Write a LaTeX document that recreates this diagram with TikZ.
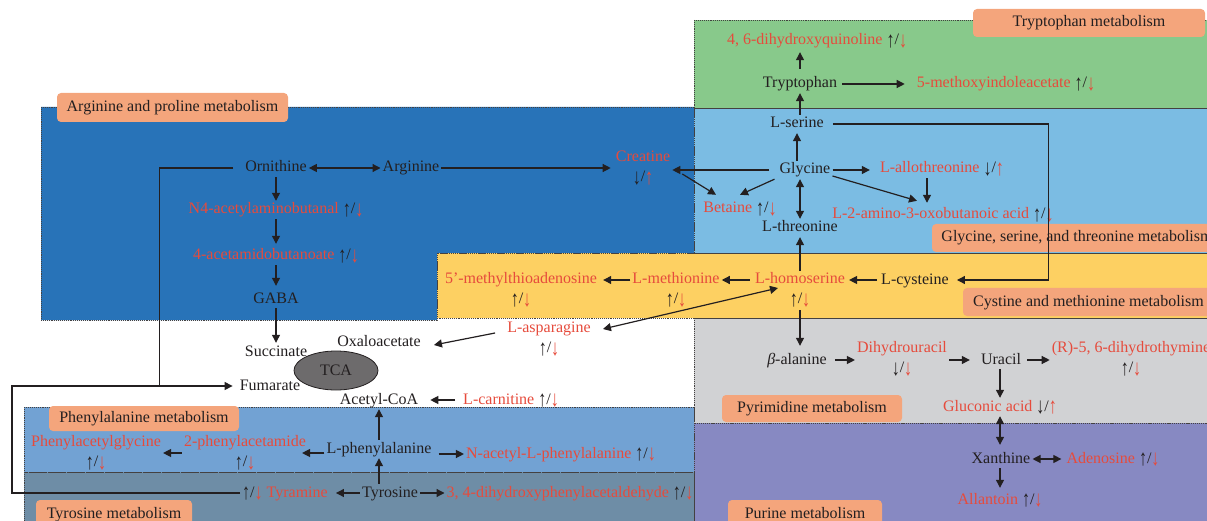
\documentclass[tikz,border=0pt]{standalone}
\usepackage{fontspec}
\usepackage{graphicx}
\setmainfont{Liberation Serif}
\usetikzlibrary{arrows.meta,shapes.geometric}
\definecolor{txt}{HTML}{231F20}
\definecolor{rd}{HTML}{E64B3C}
\definecolor{cgreen}{HTML}{88C98B}
\definecolor{cdblue}{HTML}{2873B8}
\definecolor{clblue}{HTML}{7BBCE3}
\definecolor{cyellow}{HTML}{FDD062}
\definecolor{cgrey}{HTML}{D1D2D4}
\definecolor{cpurple}{HTML}{8789C2}
\definecolor{cphe}{HTML}{72A2D3}
\definecolor{ctyr}{HTML}{6E8DA6}
\definecolor{clab}{HTML}{F4A57C}
\definecolor{ctca}{HTML}{6D6B6C}
\newcommand\uar{\raisebox{-2.5pt}{\scalebox{1}[1.4]{↑}}}
\newcommand\dar{\raisebox{-2.5pt}{\scalebox{1}[1.4]{↓}}}
\newcommand\UD{{\color{txt}\uar/}\dar}
\newcommand\DU{{\color{txt}\dar/}\uar}
\newcommand\DD{{\color{txt}\dar/}\dar}
\tikzset{
 base/.style={font=\fontsize{16}{20}\selectfont, inner sep=2pt},
 bk/.style={base, text=txt, text height=11pt, text depth=3pt},
 rdn/.style={base, text=rd, text height=11pt, text depth=3pt},
 rdtwo/.style={base, text=rd, align=center},
 lab/.style={base, text=txt, fill=clab, rounded corners=4pt, text height=11pt, text depth=3pt, inner sep=0pt},
 region/.style={draw=txt!85, densely dotted, line width=0.9pt},
 >={Triangle[length=8pt,width=8pt]},
 ln/.style={draw=txt, line width=1.2pt},
 arr/.style={ln, ->},
 darr/.style={ln, <->},
}
\begin{document}
\begin{tikzpicture}[x=1pt,y=-1pt]
\useasboundingbox (0,0) rectangle (1207,521);
\clip (0,0) rectangle (1207,521);
% regions
\fill[cgreen] (694,20) rectangle (1207,108);
\fill[cdblue] (41,107) -- (694,107) -- (694,253) -- (437,253) -- (437,320) -- (41,320) -- cycle;
\fill[clblue] (694,108) rectangle (1207,253);
\fill[cyellow] (437,253) rectangle (1207,318);
\fill[cgrey] (694,318) rectangle (1207,423);
\fill[cpurple] (694,423) rectangle (1207,521);
\fill[cphe] (24,407) rectangle (694,472);
\fill[ctyr] (24,472) rectangle (694,521);
\draw[region] (694,20) rectangle (1207,108);
\draw[region] (41,107) -- (694,107) -- (694,253) -- (437,253) -- (437,320) -- (41,320) -- cycle;
\draw[region] (694,108) rectangle (1207,253);
\draw[region] (437,253) rectangle (1207,318);
\draw[region] (694,318) rectangle (1207,423);
\draw[region] (694,423) rectangle (1207,521);
\draw[region] (24,407) rectangle (694,472);
\draw[region] (24,472) rectangle (694,521);
% labels
\node[lab, minimum width=231pt, minimum height=29pt] (l1) at (172.5,107.5) {Arginine and proline metabolism};
\node[lab, minimum width=232pt, minimum height=28pt] (l2) at (1089,23) {Tryptophan metabolism};
\node[lab, minimum width=290pt, minimum height=28pt] (l3) at (1077,238) {Glycine, serine, and threonine metabolism};
\node[lab, minimum width=251pt, minimum height=28pt] (l4) at (1088.5,302) {Cystine and methionine metabolism};
\node[lab, minimum width=180pt, minimum height=27pt] (l5) at (812,408.5) {Pyrimidine metabolism};
\node[lab, minimum width=154pt, minimum height=28pt] (l6) at (805,514) {Purine metabolism};
\node[lab, minimum width=190pt, minimum height=25pt] (l7) at (144,418.5) {Phenylalanine metabolism};
\node[lab, minimum width=156pt, minimum height=28pt] (l8) at (114,514) {Tyrosine metabolism};
% TCA
\node[base, ellipse, fill=ctca, draw=txt, line width=0.8pt, minimum width=84pt, minimum height=39pt, text=txt] (tca) at (336,370.5) {TCA};
% nodes
\node[rdn] (dq) at (817,41) {4, 6-dihydroxyquinoline \UD};
\node[bk] (trp) at (800,84) {Tryptophan};
\node[rdn] (mia) at (1006,84) {5-methoxyindoleacetate \UD};
\node[bk] (ser) at (797,124) {L-serine};
\node[bk] (gly) at (805,170) {Glycine};
\node[bk] (thr) at (800,228) {L-threonine};
\node[rdn] (allo) at (942,169) {L-allothreonine \DU};
\node[rdn] (amino) at (943,215) {L-2-amino-3-oxobutanoic acid \UD};
\node[rdn] (bet) at (740,209) {Betaine \UD};
\node[rdtwo] (cre) at (643,168) {Creatine\\\DU};
\node[bk] (orn) at (276,168) {Ornithine};
\node[bk] (arg) at (411,168) {Arginine};
\node[rdn] (n4) at (276,210) {N4-acetylaminobutanal \UD};
\node[rdn] (acet) at (276,256) {4-acetamidobutanoate \UD};
\node[bk] (gaba) at (276,299) {GABA};
\node[bk] (succ) at (276,352) {Succinate};
\node[bk] (fum) at (270,386) {Fumarate};
\node[bk] (oxa) at (379,342) {Oxaloacetate};
\node[bk] (acoa) at (379,400) {Acetyl-CoA};
\node[bk] (cys) at (915,280) {L-cysteine};
\node[rdtwo] (hom) at (800,290) {L-homoserine\\\UD};
\node[rdtwo] (met) at (676,290) {L-methionine\\\UD};
\node[rdtwo] (mta) at (521,290) {5'-methylthioadenosine\\\UD};
\node[rdtwo] (asn) at (549,339) {L-asparagine\\\UD};
\node[rdn] (car) at (511,400) {L-carnitine \UD};
\node[bk] (phe) at (379,449) {L-phenylalanine};
\node[rdtwo] (pam) at (245,453) {2-phenylacetamide\\\UD};
\node[rdtwo] (pag) at (96,453) {Phenylacetylglycine\\\UD};
\node[rdn] (nap) at (561,454) {N-acetyl-L-phenylalanine \UD};
\node[bk] (tyr) at (390,493) {Tyrosine};
\node[rdn] (tyra) at (285,493) {\UD\ Tyramine};
\node[rdn] (dop) at (570,493) {3, 4-dihydroxyphenylacetaldehyde \UD};
\node[bk] (bala) at (797,360) {\textit{β}-alanine};
\node[rdtwo] (dhu) at (902,359) {Dihydrouracil\\\DD};
\node[bk] (ura) at (1001,360) {Uracil};
\node[rdtwo] (dht) at (1131,359) {(R)-5, 6-dihydrothymine\\\UD};
\node[rdn] (glu) at (1000,407) {Gluconic acid \DU};
\node[bk] (xan) at (1001,459) {Xanthine};
\node[rdn] (ade) at (1113,459) {Adenosine \UD};
\node[rdn] (all) at (1000,500) {Allantoin \UD};
% connectors
\draw[arr, shorten <=6pt, shorten >=2pt] (trp.north) -- (trp.north |- dq.south);
\draw[arr, shorten <=3pt, shorten >=10pt] (trp.east) -- (trp.east -| mia.west);
\draw[arr] (ser.north -| trp) -- (trp.south);
\draw[arr] (gly.north -| ser) -- (ser.south);
\draw[darr] (gly.south -| thr) -- (thr.north);
\draw[arr, shorten >=8pt] ([xshift=-8pt]gly.west) -- ([xshift=-8pt]gly.west -| cre.east);
\draw[arr, shorten >=3pt] (arg.east) -- (arg.east -| cre.west);
\draw[arr] ([xshift=10pt,yshift=-6pt]cre.east) -- ([xshift=-24pt,yshift=5pt]bet.north);
\draw[arr] ([xshift=-3pt]gly.south west) -- ([yshift=5pt]bet.north);
\draw[arr, shorten >=8pt] (gly.east) -- (gly.east -| allo.west);
\draw[arr] ([yshift=-6pt]gly.east) -- ([xshift=-26pt,yshift=5pt]amino.north);
\draw[arr] ([xshift=-15pt]allo.south) -- ([xshift=-16pt,yshift=3pt]amino.north);
\draw[arr] ([xshift=7pt]ser.east) -- ++(216,0) |- ([xshift=6pt]cys.east);
\draw[arr, shorten <=2pt, shorten >=2pt] (cys.west) -- (cys.west -| hom.east);
\draw[arr, shorten <=3pt] ([yshift=10pt]hom.west) -- ([yshift=10pt]met.east);
\draw[arr, shorten >=4pt] ([yshift=10pt]met.west) -- ([yshift=10pt]mta.east);
\draw[arr] (hom.north -| thr) -- (thr.south);
\draw[darr] ([xshift=-22pt,yshift=2pt]hom.center) -- ([xshift=10pt,yshift=10pt]asn.east);
\draw[arr, shorten <=1pt, shorten >=5pt] (hom.south) -- (hom.south |- bala.north);
\draw[arr] ([xshift=-10pt,yshift=6pt]asn.west) -- ([xshift=11pt,yshift=-3pt]oxa.east);
\draw[arr] (gaba) -- (succ);
\draw[darr] (orn) -- (arg);
\draw[arr] (orn) -- (n4);
\draw[arr, shorten >=3pt] (n4) -- (acet);
\draw[arr, shorten >=4pt] (acet) -- (gaba);
\draw[ln] ([xshift=-10pt]orn.west) -- ++(-74,0) -- ++(0,218);
\draw[arr, shorten <=6pt, shorten >=10pt] (car.west) -- (car.west -| acoa.east);
\draw[arr] (phe) -- (acoa);
\draw[arr] (tyr.north -| phe) -- (phe.south);
\draw[arr] ([yshift=-4pt]phe.west) -- ([xshift=-6pt]pam.east);
\draw[arr] (pam.west) -- (pag.east);
\draw[arr, shorten <=5pt] ([yshift=-5pt]phe.east) -- (nap.west);
\draw[arr] (tyr.west) -- ([xshift=6pt]tyra.east);
\draw[arr] (tyr) -- (dop);
\draw[arr] (tyra.west) -- ++(-228,0) |- ([xshift=-5pt]fum.west);
\draw[arr, shorten <=6pt] (bala.east) -- (bala.east -| dhu.west);
\draw[arr, shorten >=9pt] (dhu.east |- ura.west) -- (ura.west);
\draw[arr, shorten <=4pt] (ura.east) -- (ura.east -| dht.west);
\draw[arr] (ura.south -| glu) -- (glu.north);
\draw[darr, shorten >=5pt] (glu.south) -- (glu.south |- xan.north);
\draw[darr, shorten >=3pt] (xan.east) -- (xan.east -| ade.west);
\draw[arr, shorten >=3pt] (xan.south -| all) -- (all.north);
\end{tikzpicture}
\end{document}
